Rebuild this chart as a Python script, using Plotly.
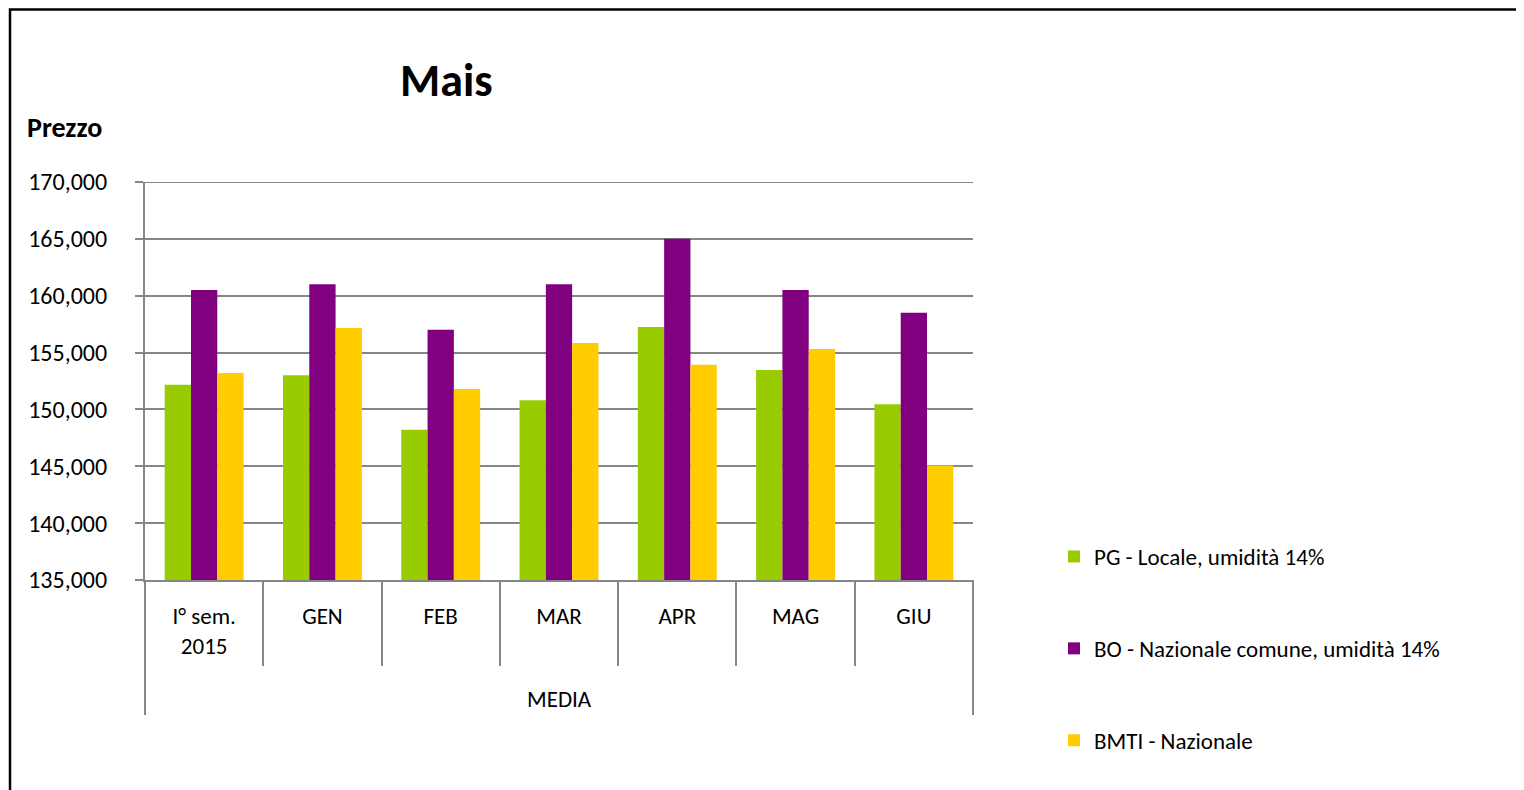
import plotly.graph_objects as go

categories = ["I° sem.<br>2015", "GEN", "FEB", "MAR", "APR", "MAG", "GIU"]
group_label = "MEDIA"
series_names = ["PG - Locale, umidità 14%",
                "BO - Nazionale comune, umidità 14%",
                "BMTI - Nazionale"]
pg_values = [152180, 153000, 148220, 150800, 157250, 153470, 150450]
bo_values = [160500, 161000, 157000, 161000, 165000, 160500, 158500]
bmti_values = [153200, 157160, 151800, 155840, 153940, 155320, 145060]
colors = ["#99CC00", "#800080", "#FFCC00"]
y_ticks = [135000, 140000, 145000, 150000, 155000, 160000, 165000, 170000]

FONT = "Carlito, Lato, sans-serif"
OFF = 8  # page body margin
W, H = 1524 - OFF, 790 - OFF
L, R, T, B = 145, 973, 182, 580  # target pixel positions of plot area


def px_x(x):
    return (x - L) / (R - L)


def px_y(y):
    return (B - y) / (B - T)


fig = go.Figure()
for i, (name, vals) in enumerate(zip(series_names, [pg_values, bo_values, bmti_values])):
    fig.add_trace(go.Bar(
        x=categories, y=vals, name=name,
        marker=dict(color=colors[i], line=dict(width=0)),
        legendgroup=f"g{i}",
    ))

grid = "#868686"
fig.update_layout(
    width=W, height=H,
    margin=dict(l=L - OFF, r=W - (R - OFF), t=T - OFF, b=H - (B - OFF), pad=0),
    paper_bgcolor="white", plot_bgcolor="white",
    barmode="group", bargap=0.333, bargroupgap=0,
    font=dict(family=FONT, size=22, color="black"),
    showlegend=True,
    legend=dict(
        x=px_x(1054), y=px_y(535), xanchor="left", yanchor="top",
        traceorder="grouped", tracegroupgap=59,
        font=dict(family=FONT, size=23, color="black"),
        bgcolor="rgba(0,0,0,0)",
    ),
    xaxis=dict(
        type="category",
        showgrid=False, showline=True, linecolor=grid, linewidth=2,
        ticks="outside", tickson="boundaries", ticklen=84,
        tickcolor=grid, tickwidth=2,
        ticklabelstandoff=14,
        tickfont=dict(family=FONT, size=23, color="black"),
        range=[-0.5, 6.5], fixedrange=True,
    ),
    yaxis=dict(
        range=[135000, 170000], tickvals=y_ticks, tickformat=",d",
        showgrid=True, gridcolor=grid, gridwidth=2,
        showline=True, linecolor=grid, linewidth=2,
        ticks="outside", ticklen=8, tickcolor=grid, tickwidth=2,
        ticklabelstandoff=23,
        tickfont=dict(family=FONT, size=24, color="black"),
        zeroline=False, fixedrange=True,
    ),
)

# top gridline at the edge of the range
fig.add_shape(type="line", xref="paper", yref="y", x0=0, x1=1,
              y0=y_ticks[-1], y1=y_ticks[-1], line=dict(color=grid, width=2))
# outer divider lines of the group label
for xp in (0, 1):
    fig.add_shape(type="line", xref="paper", yref="paper",
                  x0=xp, x1=xp, y0=0, y1=px_y(715),
                  line=dict(color=grid, width=2))

# chart border
fig.add_shape(type="rect", xref="paper", yref="paper",
              x0=px_x(10), x1=px_x(1540), y0=px_y(9.5), y1=px_y(810),
              line=dict(color="black", width=2.5), fillcolor="rgba(0,0,0,0)")

fig.add_annotation(text=group_label, xref="paper", yref="paper",
                   x=0.5, y=px_y(699), xanchor="center", yanchor="middle",
                   showarrow=False, font=dict(family=FONT, size=23, color="black"))
fig.add_annotation(text="<b>Mais</b>", xref="paper", yref="paper",
                   x=px_x(446), y=px_y(80), xanchor="center", yanchor="middle",
                   showarrow=False, font=dict(family=FONT, size=46, color="black"))
fig.add_annotation(text="<b>Prezzo</b>", xref="paper", yref="paper",
                   x=px_x(25), y=px_y(127), xanchor="left", yanchor="middle",
                   showarrow=False, font=dict(family=FONT, size=28, color="black"))

fig.write_html("out.html")
